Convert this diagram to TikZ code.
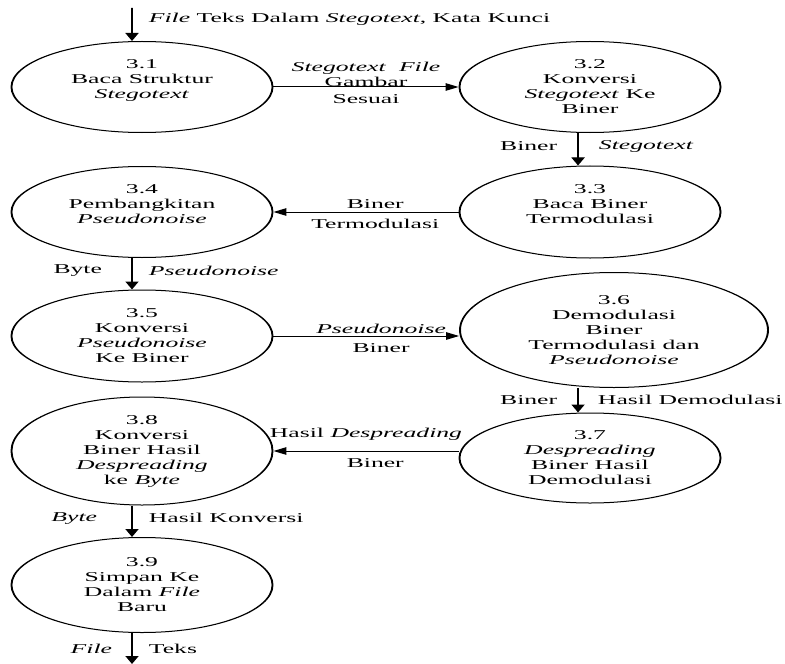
\documentclass[tikz,border=0pt]{standalone}
\usepackage{fontspec}
\setmainfont{Liberation Serif}
\usetikzlibrary{arrows.meta,shapes,positioning}
\tikzstyle{process} = [ellipse, draw, line width=1bp, inner sep=0pt, align=center, minimum width=137.4bp, minimum height=91bp]
\tikzstyle{flowh} = [line width=1bp, -{Triangle[length=6.8bp,width=7.5bp]}]
\tikzstyle{flowv} = [line width=1bp, -{Triangle[length=8bp,width=6.8bp]}]
\tikzstyle{lab} = [inner xsep=1bp, inner ysep=2bp, align=center]

\begin{document}
\begin{tikzpicture}[x=1bp, y=-1bp, font=\fontsize{13.5bp}{15bp}\selectfont]
    \useasboundingbox (0,0) rectangle (785,664);

    % the whole diagram is stretched sideways
    \begin{scope}[transform canvas={xscale=1.9}, x=0.52632bp]

    % Processes, left column
    \node[process] (p31) at (142,87) {3.1\\Baca Struktur\\\textit{Stegotext}\\\mbox{}};
    \node[process] (p34) at (142,212) {3.4\\Pembangkitan\\\textit{Pseudonoise}\\\mbox{}};
    \node[process, minimum height=92bp] (p35) at (142,336) {3.5\\Konversi\\\textit{Pseudonoise}\\Ke Biner};
    \node[process, minimum height=108bp] (p38) at (142,451) {3.8\\Konversi\\Biner Hasil\\\textit{Despreading}\\ke \textit{Byte}};
    \node[process, minimum height=95bp] (p39) at (142,585) {3.9\\Simpan Ke\\Dalam \textit{File}\\Baru};

    % Processes, right column
    \node[process] (p32) at (590,87) {3.2\\Konversi\\\textit{Stegotext} Ke\\Biner};
    \node[process, minimum height=92bp] (p33) at (590,212) {3.3\\Baca Biner\\Termodulasi\\\mbox{}};
    \node[process, minimum width=162.1bp, minimum height=115bp] (p36) at (614,330) {3.6\\Demodulasi\\Biner\\Termodulasi dan\\\textit{Pseudonoise}};
    \node[process, minimum height=90bp] (p37) at (590,458) {3.7\\\textit{Despreading}\\Biner Hasil\\Demodulasi};

    % Free ends
    \coordinate (in) at (132,8);
    \coordinate (out) at (132,664);

    % Data flows
    \draw[flowv] (in) -- node[lab, right=7.4bp, pos=0.35] {\textit{File} Teks Dalam \textit{Stegotext}, Kata Kunci} ([xshift=-5.26bp]p31.north);
    \draw[flowh] (p31) -- node[lab, above=-2bp] {\textit{Stegotext}\ \ \textit{File}\\Gambar} node[lab, below=5bp] {Sesuai} (p32);
    \draw[flowv] ([xshift=-6.3bp]p32.south) -- node[lab, left=9.5bp, pos=0.4] {Biner} node[lab, right=9.5bp, pos=0.4] {\textit{Stegotext}} ([xshift=-6.3bp]p33.north);
    \draw[flowh] (p33) -- node[lab, above=1bp, pos=0.45] {Biner} node[lab, below=5bp, pos=0.45] {Termodulasi} (p34);
    \draw[flowv] ([xshift=-5.26bp]p34.south) -- node[lab, left=14.3bp, pos=0.4] {Byte} node[lab, right=7.4bp, pos=0.4] {\textit{Pseudonoise}} ([xshift=-5.26bp]p35.north);
    \draw[flowh] (p35.east) -- node[lab, above=0bp, pos=0.58] {\textit{Pseudonoise}} node[lab, below=5bp, pos=0.58] {Biner} (p35.east -| p36.west);
    \draw[flowv] ([xshift=-6.3bp]p37.north |- p36.south) -- node[lab, left=9.5bp] {Biner} node[lab, right=9bp] {Hasil Demodulasi} ([xshift=-6.3bp]p37.north);
    \draw[flowh] (p37.west |- p38.east) -- node[lab, above=8bp] {Hasil \textit{Despreading}} node[lab, below=5bp, pos=0.45] {Biner} (p38.east);
    \draw[flowv] ([xshift=-5.26bp]p38.south) -- node[lab, left=16.9bp, pos=0.4] {\textit{Byte}} node[lab, right=7.4bp, pos=0.4] {Hasil Konversi} ([xshift=-5.26bp]p39.north);
    \draw[flowv] ([xshift=-5.26bp]p39.south) -- node[lab, left=9bp] {\textit{File}} node[lab, right=7.4bp] {Teks} (out);
    \end{scope}
\end{tikzpicture}
\end{document}
